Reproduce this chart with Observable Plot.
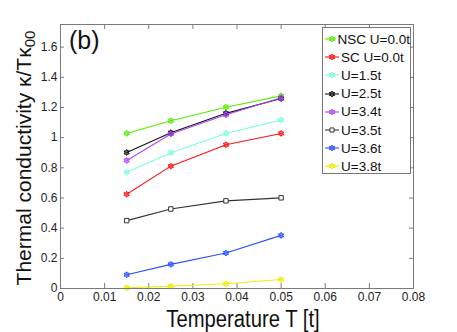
<!DOCTYPE html>
<html>
<head>
<meta charset="utf-8">
<script src="https://cdn.jsdelivr.net/npm/d3@7"></script>
<script src="https://cdn.jsdelivr.net/npm/@observablehq/plot@0.6"></script>
<style>
  html, body { margin: 0; padding: 0; background: #fff; }
  #wrap { position: relative; width: 457px; height: 332px; font-family: "Liberation Sans", Arial, sans-serif; }
  #wrap svg { font-family: "Liberation Sans", Arial, sans-serif; }
  .ylab { position: absolute; left: 23px; top: 158px; transform: translate(-50%, -50%) rotate(-90deg); white-space: nowrap; font-size: 21px; line-height: 1; color: #111; }
  .ylab sub { font-size: 15px; vertical-align: -4px; line-height: 0; }
  .xlab { position: absolute; left: 243px; top: 308px; transform: translateX(-50%) scaleX(0.88); white-space: nowrap; font-size: 23px; line-height: 1; color: #111; }
  .tag { position: absolute; left: 69px; top: 26px; font-size: 25px; color: #111; }
  .legend { position: absolute; left: 322px; top: 27px; width: 89px; height: 147px; border: 1px solid #777; background: #fff; box-sizing: border-box; padding-top: 2px; }
  .legend .row { display: flex; align-items: center; height: 18.2px; font-size: 13.5px; color: #111; white-space: nowrap; }
  .legend svg { margin-left: 2px; margin-right: 2px; }
</style>
</head>
<body>
<div id="wrap"></div>
<script>
// ---- data ----
const temps = [0.015, 0.025, 0.0375, 0.05];
const seriesNames = ["NSC U=0.0t", "SC U=0.0t", "U=1.5t", "U=2.5t", "U=3.4t", "U=3.5t", "U=3.6t", "U=3.8t"];
const seriesColors = ["#55ee00", "#ff1111", "#77ffdd", "#111111", "#b044ff", "#333333", "#2850ff", "#eeee00"];
const seriesMarkers = ["hex", "hex", "hex", "hex", "hex", "square", "hex", "hex"];
const nscU00 = [1.028, 1.112, 1.201, 1.277];
const scU00  = [0.625, 0.811, 0.953, 1.028];
const u15    = [0.771, 0.900, 1.028, 1.117];
const u25    = [0.902, 1.033, 1.161, 1.259];
const u34    = [0.849, 1.024, 1.152, 1.265];
const u35    = [0.450, 0.527, 0.581, 0.601];
const u36    = [0.091, 0.160, 0.235, 0.352];
const u38    = [0.005, 0.015, 0.031, 0.060];
const seriesValues = [nscU00, scU00, u15, u25, u34, u35, u36, u38];
const xTicks = [0, 0.01, 0.02, 0.03, 0.04, 0.05, 0.06, 0.07, 0.08];
const yTicks = [0, 0.2, 0.4, 0.6, 0.8, 1, 1.2, 1.4, 1.6];

// ---- build rows ----
const rows = [];
seriesNames.forEach((name, i) => {
  seriesValues[i].forEach((v, j) => rows.push({series: name, T: temps[j], k: v, marker: seriesMarkers[i]}));
});
const hexRows = rows.filter(d => d.marker === "hex");
const squareRows = rows.filter(d => d.marker === "square");

// six-pointed star (hexagram) symbol
const hexagram = {
  draw(ctx, size) {
    const R = Math.sqrt(size / Math.PI) * 1.25, r = R * 0.6;
    for (let i = 0; i < 12; i++) {
      const a = -Math.PI / 2 + i * Math.PI / 6;
      const rr = i % 2 === 0 ? R : r;
      const x = rr * Math.cos(a), y = rr * Math.sin(a);
      if (i === 0) ctx.moveTo(x, y); else ctx.lineTo(x, y);
    }
    ctx.closePath();
  }
};
const square = {
  draw(ctx, size) {
    const h = Math.sqrt(size / Math.PI) * 0.85;
    ctx.moveTo(-h, -h); ctx.lineTo(h, -h); ctx.lineTo(h, h); ctx.lineTo(-h, h); ctx.closePath();
  }
};

const colorScale = {domain: seriesNames, range: seriesColors};
const fmt = d => String(+d.toFixed(2));
const frameColor = "#7a7a7a";

const chart = Plot.plot({
  width: 457,
  height: 332,
  marginLeft: 60,
  marginRight: 44,
  marginTop: 24,
  marginBottom: 44,
  style: {fontSize: "12px", color: "#222", background: "#fff"},
  x: {domain: [0, 0.08], ticks: xTicks, label: null},
  y: {domain: [0, 1.75], ticks: yTicks, label: null},
  color: colorScale,
  marks: [
    Plot.axisX({ticks: xTicks, tickSize: 0, tickPadding: 4, tickFormat: fmt, fontSize: 12, fill: "#222"}),
    Plot.axisY({ticks: yTicks, tickSize: 0, tickPadding: 3, tickFormat: fmt, fontSize: 12, fill: "#222"}),
    // inward ticks, bottom/top/left/right
    Plot.ruleX(xTicks, {x: d => d, y1: 0, y2: 0.033, stroke: frameColor}),
    Plot.ruleX(xTicks, {x: d => d, y1: 1.717, y2: 1.75, stroke: frameColor}),
    Plot.ruleY(yTicks, {y: d => d, x1: 0, x2: 0.0009, stroke: frameColor}),
    Plot.ruleY(yTicks, {y: d => d, x1: 0.0791, x2: 0.08, stroke: frameColor}),
    Plot.line(rows, {x: "T", y: "k", z: "series", stroke: "series", strokeWidth: 1.1}),
    Plot.dot(hexRows, {x: "T", y: "k", stroke: "series", fill: "series", fillOpacity: 0.6, symbol: hexagram, r: 2.4, strokeWidth: 1}),
    Plot.dot(squareRows, {x: "T", y: "k", stroke: "series", fill: "#ffffff", symbol: square, r: 2.6, strokeWidth: 1}),
    Plot.frame({stroke: frameColor, strokeWidth: 1})
  ]
});

const wrap = document.getElementById("wrap");
wrap.appendChild(chart);

const ylab = document.createElement("div");
ylab.className = "ylab";
ylab.innerHTML = "Thermal conductivity κ/Tκ<sub>00</sub>";
wrap.appendChild(ylab);

const xlab = document.createElement("div");
xlab.className = "xlab";
xlab.textContent = "Temperature T [t]";
wrap.appendChild(xlab);

const tag = document.createElement("div");
tag.className = "tag";
tag.textContent = "(b)";
wrap.appendChild(tag);

// legend
const legend = document.createElement("div");
legend.className = "legend";
seriesNames.forEach((name, i) => {
  const row = document.createElement("div");
  row.className = "row";
  const s = d3.create("svg").attr("width", 14).attr("height", 10);
  s.append("line").attr("x1", 0).attr("x2", 14).attr("y1", 5).attr("y2", 5).attr("stroke", seriesColors[i]).attr("stroke-width", 1.1);
  const sq = seriesMarkers[i] === "square";
  const sym = sq ? square : hexagram;
  const p = d3.path();
  sym.draw(p, Math.PI * 2.4 * 2.4);
  s.append("path").attr("d", p.toString()).attr("transform", "translate(7,5)")
    .attr("fill", sq ? "#fff" : seriesColors[i]).attr("fill-opacity", sq ? 1 : 0.6)
    .attr("stroke", seriesColors[i]).attr("stroke-width", 1);
  row.appendChild(s.node());
  const t = document.createElement("span");
  t.textContent = name;
  row.appendChild(t);
  legend.appendChild(row);
});
wrap.appendChild(legend);
</script>
</body>
</html>
